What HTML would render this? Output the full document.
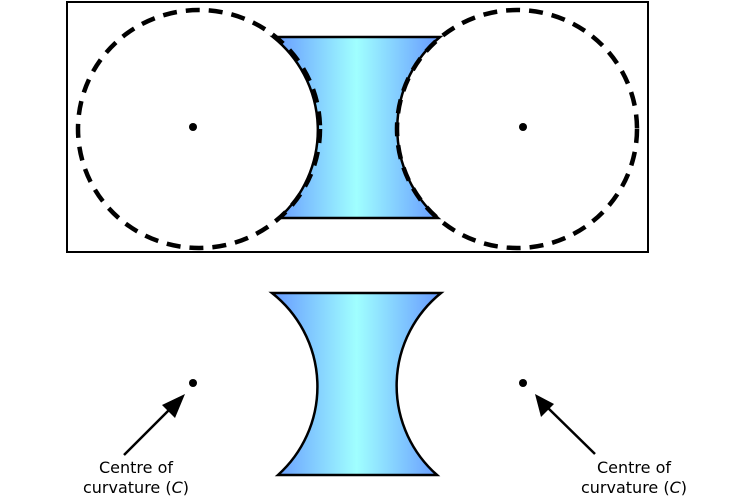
<!DOCTYPE html>
<html><head><meta charset="utf-8"><style>html,body{margin:0;padding:0;background:#fff}svg{display:block}</style></head>
<body>
<svg width="750" height="500" viewBox="0 0 750 500" xmlns="http://www.w3.org/2000/svg">
<defs>
<linearGradient id="g" x1="0" x2="1" y1="0" y2="0">
<stop offset="0" stop-color="#6699ff"/>
<stop offset="0.5" stop-color="#a0ffff"/>
<stop offset="1" stop-color="#6699ff"/>
</linearGradient>
</defs>
<rect x="67" y="2" width="581" height="250" fill="none" stroke="#000" stroke-width="2"/>
<path d="M273,37 L440,37 A119,119 0 0 0 438,218 L279,218 A119,119 0 0 0 273,37 Z" fill="url(#g)" stroke="#000" stroke-width="2.5"/>
<ellipse cx="199" cy="129" rx="121" ry="119" fill="none" stroke="#000" stroke-width="4.5" stroke-dasharray="14,9"/>
<ellipse cx="517" cy="129" rx="120" ry="119" fill="none" stroke="#000" stroke-width="4.5" stroke-dasharray="14,9"/>
<circle cx="193" cy="127" r="4"/>
<circle cx="523" cy="127" r="4"/>
<path d="M272,293 L441,293 A119,119 0 0 0 437,475 L278,475 A119,119 0 0 0 272,293 Z" fill="url(#g)" stroke="#000" stroke-width="2.5"/>
<circle cx="193" cy="383" r="4"/>
<circle cx="523" cy="383" r="4"/>
<line x1="124" y1="455" x2="172" y2="407" stroke="#000" stroke-width="2.5"/>
<polygon points="185,394 162,405 175,418" fill="#000"/>
<line x1="595" y1="454" x2="547" y2="407" stroke="#000" stroke-width="2.5"/>
<polygon points="535,394 541,417 554,404" fill="#000"/>
<g font-family="'DejaVu Sans','Liberation Sans',sans-serif" font-size="16px" fill="#000" text-anchor="middle">
<text x="136" y="473">Centre of</text>
<text x="136" y="493">curvature (<tspan font-style="italic">C</tspan>)</text>
<text x="634" y="473">Centre  of</text>
<text x="634" y="493">curvature (<tspan font-style="italic">C</tspan>)</text>
</g>
</svg>
</body></html>
